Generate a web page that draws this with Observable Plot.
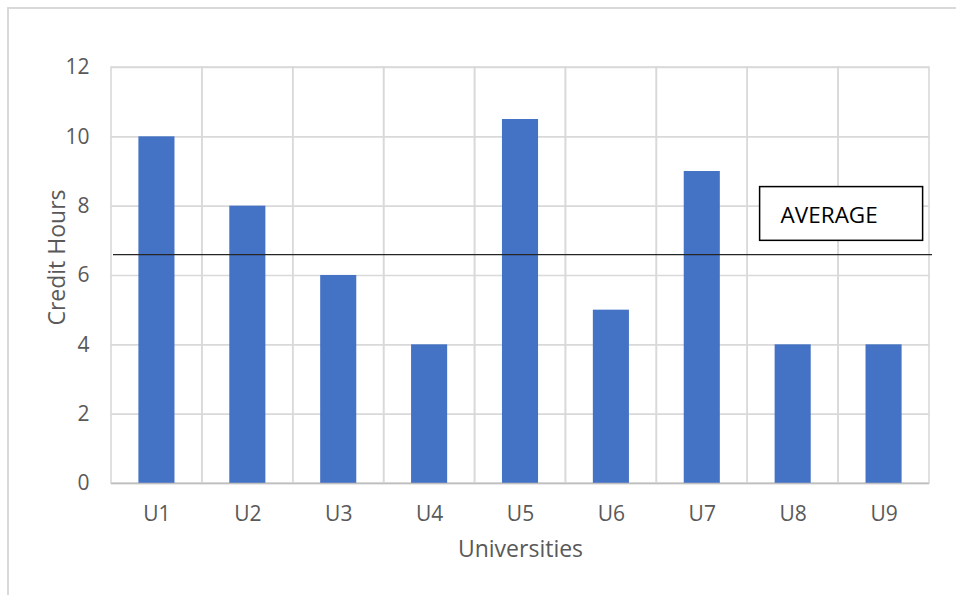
<!DOCTYPE html>
<html>
<head>
<meta charset="utf-8">
<script src="https://cdn.jsdelivr.net/npm/d3@7"></script>
<script src="https://cdn.jsdelivr.net/npm/@observablehq/plot@0.6"></script>
<style>
  html, body { margin: 0; padding: 0; background: #ffffff; }
  #wrap { position: relative; width: 956px; height: 595px; overflow: hidden; }
  #frame { position: absolute; left: 7px; top: 7px; right: -4px; bottom: -4px;
           border-top: 2px solid #d9d9d9; border-left: 2px solid #d9d9d9; }
  #chart { position: absolute; left: 0; top: 0; }
</style>
</head>
<body>
<div id="wrap"><div id="frame"></div><div id="chart"></div></div>
<script>
const categories = ["U1", "U2", "U3", "U4", "U5", "U6", "U7", "U8", "U9"];
const creditHours = [10, 8, 6, 4, 10.5, 5, 9, 4, 4];
const yTicks = [0, 2, 4, 6, 8, 10, 12];
const averageValue = 6.6;
const averageLabel = "AVERAGE";
const averageBoxY = [7.0, 8.55];
const xTitle = "Universities";
const yTitle = "Credit Hours";

const data = categories.map((u, i) => ({u, v: creditHours[i]}));

const chart = Plot.plot({
  width: 956,
  height: 595,
  marginLeft: 111,
  marginRight: 27,
  marginTop: 67,
  marginBottom: 112,
  style: {fontFamily: "'Open Sans', sans-serif", fontSize: "21px", color: "#595959", background: "transparent", overflow: "visible"},
  x: {domain: categories, padding: 0, round: false, label: null, tickSize: 0, tickPadding: 23},
  y: {domain: [0, 12], ticks: yTicks, label: null, tickSize: 0, tickPadding: 22},
  marks: [
    Plot.ruleY(yTicks, {stroke: "#d9d9d9", strokeWidth: 1.6}),
    Plot.barY(categories, {x: d => d, y1: () => yTicks[0], y2: () => yTicks[yTicks.length - 1], fill: "none", stroke: "#d9d9d9", strokeWidth: 1.6}),
    Plot.barY(data, {x: "u", y: "v", fill: "#4472c4", insetLeft: 27.4, insetRight: 27.4}),
    Plot.ruleY([0], {stroke: "#bfbfbf", strokeWidth: 1.6}),
    Plot.ruleY([averageValue], {stroke: "#262626", strokeWidth: 1.3, insetLeft: 2, insetRight: -3}),
    Plot.text([yTitle], {frameAnchor: "left", dx: -54, dy: -18, rotate: -90, fontSize: 23, fill: "#595959", textAnchor: "middle", lineAnchor: "middle"}),
    Plot.text([xTitle], {frameAnchor: "bottom", dy: 66, fontSize: 23, fill: "#595959", textAnchor: "middle", lineAnchor: "middle"})
  ]
});
document.getElementById("chart").appendChild(chart);

// Annotation box positioned via Plot's own scales
const xs = chart.scale("x");
const ys = chart.scale("y");
const boxCenterX = xs.apply("U9") + 3;
const boxW = 163;
const yTop = ys.apply(averageBoxY[1]);
const yBot = ys.apply(averageBoxY[0]);
const svg = d3.select(chart);
const g = svg.append("g");
g.append("rect")
  .attr("x", boxCenterX - boxW / 2)
  .attr("y", yTop)
  .attr("width", boxW)
  .attr("height", yBot - yTop)
  .attr("fill", "#ffffff")
  .attr("stroke", "#000000")
  .attr("stroke-width", 1.5);
g.append("text")
  .attr("x", boxCenterX - boxW / 2 + 21)
  .attr("y", yTop + 36)
  .attr("fill", "#000000")
  .attr("text-anchor", "start")
  .attr("font-family", "'Open Sans', sans-serif")
  .attr("font-size", 22.5)
  .text(averageLabel);
</script>
</body>
</html>
